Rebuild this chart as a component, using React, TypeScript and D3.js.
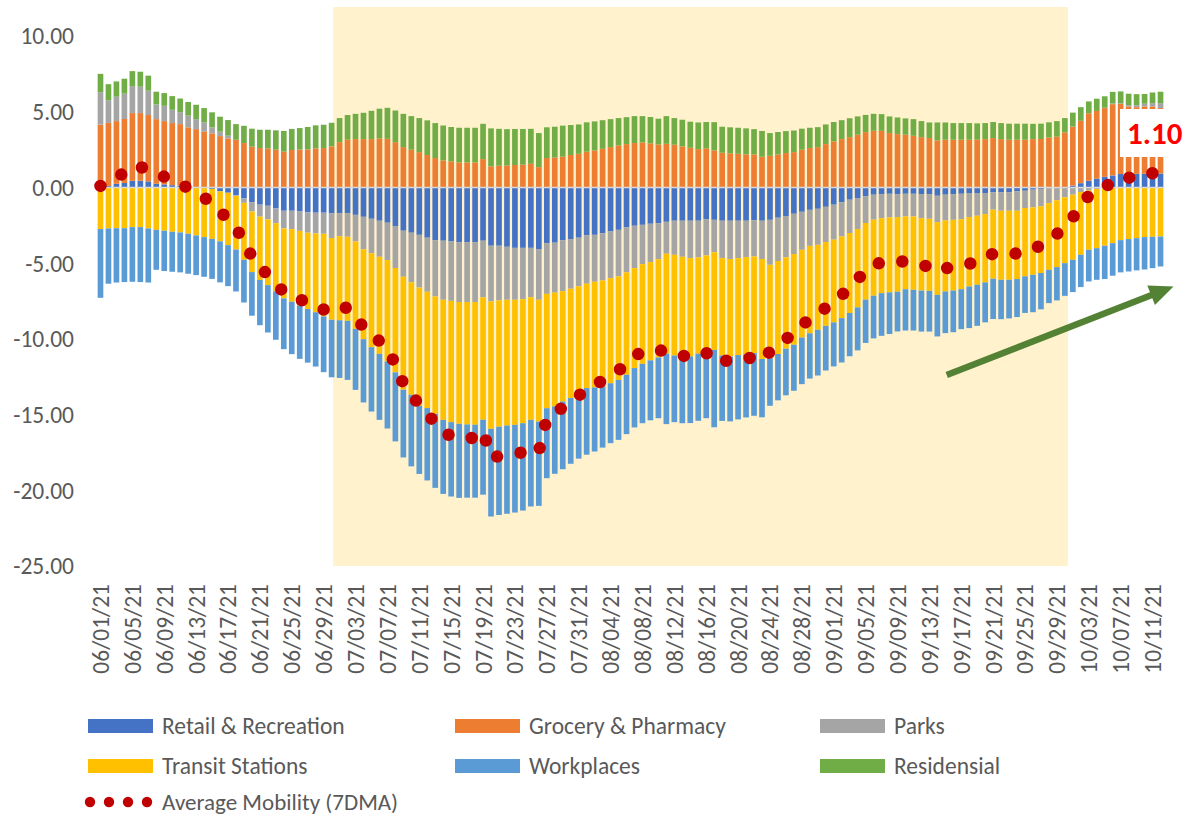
import React from 'react';
import * as d3 from 'd3';

// ---------- DATA ----------
const startDate = new Date(2021, 5, 1);
const dayCount = 134; // 06/01/21 .. 10/12/21
const categories: Date[] = d3.timeDay.range(startDate, d3.timeDay.offset(startDate, dayCount));

const retail = [0.05,0.10,0.24,0.29,0.44,0.44,0.40,0.24,0.20,0.15,0.13,0.07,0.00,-0.02,-0.10,-0.26,-0.35,-0.51,-0.73,-0.97,-1.14,-1.21,-1.39,-1.54,-1.54,-1.59,-1.65,-1.67,-1.67,-1.72,-1.70,-1.70,-1.81,-1.94,-2.07,-2.20,-2.33,-2.55,-2.86,-2.99,-3.13,-3.32,-3.48,-3.52,-3.57,-3.61,-3.61,-3.61,-3.52,-3.85,-3.85,-3.92,-3.99,-3.99,-3.99,-4.07,-3.68,-3.65,-3.50,-3.41,-3.32,-3.17,-3.13,-3.02,-2.91,-2.80,-2.64,-2.53,-2.47,-2.40,-2.36,-2.27,-2.20,-2.20,-2.20,-2.20,-2.09,-2.14,-2.20,-2.20,-2.20,-2.20,-2.16,-2.20,-2.14,-2.00,-1.89,-1.74,-1.61,-1.48,-1.41,-1.28,-1.14,-0.99,-0.81,-0.70,-0.59,-0.48,-0.44,-0.42,-0.44,-0.42,-0.42,-0.44,-0.44,-0.55,-0.48,-0.44,-0.42,-0.37,-0.37,-0.37,-0.33,-0.33,-0.31,-0.26,-0.22,-0.15,-0.10,-0.04,0.00,0.02,0.12,0.28,0.44,0.58,0.70,0.79,0.89,0.90,0.90,0.90,0.90,0.92];

const grocery = [4.10,4.16,4.14,4.23,4.47,4.47,4.38,4.27,4.18,4.10,4.05,3.90,3.85,3.70,3.57,3.39,3.24,3.15,2.93,2.69,2.60,2.58,2.49,2.36,2.47,2.51,2.51,2.58,2.60,2.71,2.99,3.15,3.19,3.19,3.19,3.24,3.21,2.99,2.66,2.49,2.33,2.14,1.94,1.78,1.72,1.65,1.65,1.65,1.87,1.39,1.43,1.45,1.48,1.50,1.56,1.34,1.94,1.98,2.03,2.14,2.22,2.36,2.44,2.55,2.66,2.77,2.86,2.93,2.97,2.91,2.84,2.88,2.82,2.71,2.62,2.53,2.58,2.44,2.29,2.25,2.22,2.18,2.18,2.03,2.09,2.18,2.27,2.33,2.49,2.60,2.66,2.86,3.04,3.19,3.32,3.48,3.65,3.74,3.74,3.59,3.52,3.48,3.41,3.32,3.26,3.10,3.15,3.15,3.15,3.15,3.15,3.19,3.26,3.19,3.15,3.15,3.15,3.19,3.20,3.30,3.35,3.61,3.90,4.12,4.46,4.47,4.54,4.71,4.62,4.45,4.40,4.45,4.45,4.32];

const parks = [2.14,1.50,1.61,1.67,1.78,1.74,1.61,0.97,1.01,0.88,0.79,0.77,0.66,0.59,0.40,0.29,0.18,-0.05,-0.29,-0.62,-0.79,-0.90,-0.97,-1.17,-1.21,-1.28,-1.34,-1.37,-1.39,-1.62,-1.52,-1.56,-1.76,-2.14,-2.27,-2.38,-2.47,-2.77,-3.04,-3.28,-3.48,-3.57,-3.72,-3.90,-3.92,-3.96,-3.96,-3.96,-3.74,-3.68,-3.61,-3.50,-3.43,-3.39,-3.26,-3.35,-3.35,-3.30,-3.35,-3.28,-3.21,-3.19,-3.10,-3.13,-3.08,-3.08,-2.97,-2.80,-2.60,-2.53,-2.38,-2.11,-2.25,-2.38,-2.47,-2.42,-2.40,-2.14,-2.47,-2.53,-2.47,-2.40,-2.40,-2.53,-2.97,-2.86,-2.73,-2.66,-2.51,-2.38,-2.38,-2.33,-2.31,-2.25,-2.20,-2.05,-1.76,-1.65,-1.59,-1.56,-1.52,-1.50,-1.50,-1.59,-1.63,-1.74,-1.70,-1.70,-1.68,-1.59,-1.50,-1.39,-1.14,-1.21,-1.23,-1.28,-1.14,-1.17,-1.15,-1.00,-0.85,-0.65,-0.48,-0.30,-0.20,-0.10,0.02,0.04,0.05,0.09,0.13,0.18,0.22,0.33];

const transit = [-2.75,-2.71,-2.69,-2.69,-2.62,-2.62,-2.71,-2.80,-2.86,-2.93,-2.97,-3.06,-3.17,-3.26,-3.30,-3.30,-3.46,-3.54,-3.76,-4.00,-4.18,-4.34,-4.51,-4.62,-4.80,-4.93,-5.04,-5.20,-5.46,-5.40,-5.55,-5.55,-5.77,-5.94,-6.21,-6.41,-6.69,-6.89,-7.46,-7.42,-7.82,-7.68,-7.75,-7.93,-8.01,-8.04,-8.08,-8.10,-8.08,-8.41,-8.34,-8.30,-8.26,-8.19,-8.10,-8.04,-7.55,-7.51,-7.29,-7.22,-7.22,-6.89,-6.98,-7.00,-6.94,-6.83,-6.76,-6.60,-6.58,-6.49,-6.49,-6.60,-6.65,-6.52,-6.49,-6.36,-6.41,-6.45,-6.43,-6.43,-6.40,-6.41,-6.38,-6.60,-6.16,-6.14,-6.03,-5.99,-5.79,-5.77,-5.61,-5.53,-5.46,-5.39,-5.28,-5.17,-5.06,-5.02,-4.95,-4.95,-4.93,-4.80,-4.84,-4.78,-4.76,-4.80,-4.69,-4.67,-4.62,-4.58,-4.56,-4.51,-4.56,-4.56,-4.56,-4.51,-4.51,-4.45,-4.40,-4.40,-4.41,-4.35,-4.30,-4.15,-3.92,-3.91,-3.85,-3.68,-3.48,-3.41,-3.35,-3.28,-3.26,-3.24];

const workplaces = [-4.54,-3.65,-3.59,-3.56,-3.61,-3.63,-3.57,-2.64,-2.66,-2.64,-2.64,-2.64,-2.62,-2.62,-2.64,-2.71,-2.71,-2.77,-2.82,-2.88,-2.99,-3.13,-3.19,-3.35,-3.46,-3.52,-3.54,-3.59,-3.68,-3.80,-3.81,-3.90,-4.03,-4.18,-4.25,-4.36,-4.43,-4.56,-4.47,-4.73,-4.49,-4.78,-4.89,-4.89,-4.91,-4.89,-4.84,-4.82,-4.95,-5.79,-5.83,-5.83,-5.79,-5.77,-5.72,-5.57,-4.62,-4.45,-4.47,-4.34,-4.16,-4.40,-4.23,-4.03,-3.96,-3.96,-3.92,-3.92,-3.92,-3.96,-4.01,-4.65,-4.40,-4.47,-4.40,-4.43,-4.34,-5.11,-4.32,-4.29,-4.25,-4.18,-4.14,-3.85,-3.15,-3.06,-3.08,-3.04,-3.08,-2.99,-3.02,-2.95,-2.91,-2.93,-2.86,-2.84,-2.86,-2.82,-2.82,-2.75,-2.62,-2.73,-2.69,-2.71,-2.69,-2.75,-2.75,-2.75,-2.64,-2.75,-2.71,-2.64,-2.66,-2.60,-2.55,-2.51,-2.42,-2.47,-2.40,-2.20,-2.20,-2.16,-2.13,-2.13,-2.09,-2.09,-2.20,-2.15,-2.13,-2.14,-2.13,-2.14,-2.07,-1.98];

const residential = [1.21,1.06,1.01,0.99,0.99,0.99,0.99,0.84,0.84,0.90,0.90,0.90,0.95,0.95,0.99,0.99,1.03,1.03,1.14,1.19,1.21,1.23,1.28,1.37,1.39,1.41,1.48,1.52,1.54,1.56,1.59,1.63,1.67,1.74,1.87,1.96,2.05,2.09,2.20,2.22,2.25,2.29,2.31,2.31,2.27,2.29,2.29,2.29,2.33,2.51,2.44,2.40,2.38,2.36,2.31,2.25,2.03,2.03,2.05,1.98,1.94,1.94,1.92,1.89,1.85,1.81,1.78,1.78,1.74,1.74,1.70,1.83,1.76,1.76,1.72,1.76,1.74,1.87,1.72,1.72,1.72,1.72,1.67,1.70,1.50,1.48,1.45,1.43,1.39,1.34,1.32,1.30,1.28,1.25,1.25,1.21,1.14,1.12,1.10,1.10,1.10,1.08,1.10,1.06,1.03,1.19,1.14,1.10,1.10,1.10,1.08,1.06,1.06,1.06,1.06,1.06,1.06,1.01,1.01,1.00,1.03,0.95,0.92,0.90,0.78,0.81,0.76,0.77,0.78,0.75,0.73,0.64,0.70,0.75];

const avgMobility = [0.10,0.46,0.72,0.93,1.40,1.37,1.10,0.88,0.71,0.46,0.26,-0.06,-0.33,-0.66,-1.08,-1.60,-2.07,-2.69,-3.53,-4.59,-5.29,-5.77,-6.29,-6.95,-7.15,-7.40,-7.58,-7.73,-8.06,-8.27,-8.00,-7.93,-8.51,-9.27,-9.74,-10.15,-10.66,-11.69,-12.97,-13.71,-14.34,-14.92,-15.59,-16.15,-16.42,-16.56,-16.55,-16.55,-16.09,-17.83,-17.76,-17.70,-17.61,-17.48,-17.20,-17.44,-15.23,-14.90,-14.53,-14.13,-13.75,-13.35,-13.08,-12.74,-12.38,-12.09,-11.65,-11.14,-10.86,-10.73,-10.70,-10.92,-10.92,-11.10,-11.22,-11.12,-10.92,-11.53,-11.41,-11.48,-11.38,-11.29,-11.23,-11.45,-10.83,-10.40,-10.01,-9.67,-9.11,-8.68,-8.44,-7.93,-7.50,-7.12,-6.58,-6.07,-5.48,-5.11,-4.96,-4.99,-4.89,-4.89,-4.94,-5.14,-5.23,-5.55,-5.33,-5.31,-5.11,-5.04,-4.91,-4.66,-4.37,-4.45,-4.44,-4.35,-4.08,-4.04,-3.84,-3.34,-3.08,-2.58,-1.97,-1.28,-0.53,-0.24,-0.03,0.44,0.68,0.64,0.68,0.75,0.94,1.10];

const seriesKeys = ['retail', 'grocery', 'parks', 'transit', 'workplaces', 'residential'];
const seriesNames = ['Retail & Recreation', 'Grocery & Pharmacy', 'Parks', 'Transit Stations', 'Workplaces', 'Residensial'];
const seriesColors = ['#4472C4', '#ED7D31', '#A5A5A5', '#FFC000', '#5B9BD5', '#70AD47'];
const seriesValues = [retail, grocery, parks, transit, workplaces, residential];

const yTicks = [10, 5, 0, -5, -10, -15, -20, -25];
const highlightStart = new Date(2021, 5, 30);
const highlightEnd = new Date(2021, 8, 30);
const lineName = 'Average Mobility (7DMA)';

// ---------- CHART ----------
const FONT = "Carlito, Calibri, Lato, sans-serif";
const TEXT = '#595959';

export default function App() {
  const W = 1188, H = 816;
  const idx = d3.range(categories.length);
  const x = d3.scaleBand<number>().domain(idx).range([96.5, 1164.5]).paddingInner(0.29).paddingOuter(0.145);
  const bw = x.bandwidth();
  const cx = (i: number) => (x(i) as number) + bw / 2;
  const y = d3.scaleLinear().domain([-25, 10]).range([566, 36]);

  const rows = idx.map(i => {
    const r: any = { i };
    seriesKeys.forEach((k, s) => { r[k] = seriesValues[s][i]; });
    return r;
  });
  const stacked = d3.stack<any>().keys(seriesKeys).offset(d3.stackOffsetDiverging)(rows);

  const line = d3.line<number>().x((_, i) => cx(i)).y(d => y(d));
  const fmtDate = d3.timeFormat('%m/%d/%y');
  const hs = categories.findIndex(d => +d === +highlightStart);
  const he = categories.findIndex(d => +d === +highlightEnd);
  const hx0 = cx(hs) + 1.5;
  const hx1 = cx(he) + 3.2;

  // arrow annotation
  const ax0 = 946.7, ay0 = 375, ax1 = 1173.5, ay1 = 286.5;
  const len = Math.hypot(ax1 - ax0, ay1 - ay0);
  const ux = (ax1 - ax0) / len, uy = (ay1 - ay0) / len;
  const headL = 24, headW = 10.5;
  const bx = ax1 - ux * headL, by = ay1 - uy * headL;
  const nx = -uy, ny = ux;

  const legendItems = [
    { c: 0, r: 0, s: 0 }, { c: 1, r: 0, s: 1 }, { c: 2, r: 0, s: 2 },
    { c: 0, r: 1, s: 3 }, { c: 1, r: 1, s: 4 }, { c: 2, r: 1, s: 5 },
  ];
  const colX = [88, 455, 820];
  const rowY = [726, 766, 802];
  const lastVal = avgMobility[avgMobility.length - 1];

  return (
    <svg width={W} height={H} style={{ position: 'absolute', left: 0, top: 0, background: '#fff' }} fontFamily={FONT}>
      <rect x={0} y={0} width={W} height={H} fill="#fff" />
      {/* highlight */}
      <rect x={hx0} y={7} width={hx1 - hx0} height={y(-25) - 7} fill="#FFF2CC" />
      {/* bars */}
      {stacked.map((layer, s) => (
        <g key={seriesKeys[s]} fill={seriesColors[s]}>
          {layer.map((d, i) => {
            const y0 = y(d[0]), y1 = y(d[1]);
            const h = Math.abs(y0 - y1);
            if (h < 0.01) return null;
            return <rect key={i} x={x(i)} y={Math.min(y0, y1)} width={bw} height={h} />;
          })}
        </g>
      ))}
      {/* zero axis */}
      <line x1={96.5} x2={1164.5} y1={y(0)} y2={y(0)} stroke="#D9D9D9" strokeWidth={1.6} />
      {/* average mobility dotted line */}
      <path d={line(avgMobility) || ''} fill="none" stroke="#C00000" strokeWidth={12.5}
        strokeDasharray="0 23.8" strokeLinecap="round" strokeLinejoin="round" />
      {/* y axis labels */}
      {yTicks.map(t => (
        <text key={t} x={74} y={y(t)} dy="0.36em" textAnchor="end" fontSize={23.5} fill={TEXT}>
          {d3.format('.2f')(t).replace('−', '-')}
        </text>
      ))}
      {/* x axis labels */}
      {idx.filter(i => i % 4 === 0).map(i => (
        <text key={i} transform={`translate(${cx(i)},${584}) rotate(-90)`} dy="0.36em" textAnchor="end" fontSize={23.5} fill={TEXT}>
          {fmtDate(categories[i])}
        </text>
      ))}
      {/* arrow */}
      <line x1={ax0} y1={ay0} x2={bx + ux * 2} y2={by + uy * 2} stroke="#548235" strokeWidth={6.5} />
      <polygon points={`${ax1},${ay1} ${bx + nx * headW},${by + ny * headW} ${bx - nx * headW},${by - ny * headW}`} fill="#548235" />
      {/* value label */}
      <rect x={1120} y={109} width={80} height={48} fill="#fff" />
      <text x={1127} y={144} fontSize={31} fontWeight="bold" fill="#FF0000">{lastVal.toFixed(2)}</text>
      {/* legend */}
      {legendItems.map(it => (
        <g key={it.s}>
          <rect x={colX[it.c]} y={rowY[it.r] - 7} width={65} height={14} fill={seriesColors[it.s]} />
          <text x={colX[it.c] + 74} y={rowY[it.r]} dy="0.36em" fontSize={23.5} fill={TEXT}>{seriesNames[it.s]}</text>
        </g>
      ))}
      {[0, 1, 2, 3].map(k => (
        <circle key={k} cx={90 + k * 19} cy={rowY[2]} r={5.2} fill="#C00000" />
      ))}
      <text x={162} y={rowY[2]} dy="0.34em" fontSize={23} fill={TEXT}>{lineName}</text>
    </svg>
  );
}
